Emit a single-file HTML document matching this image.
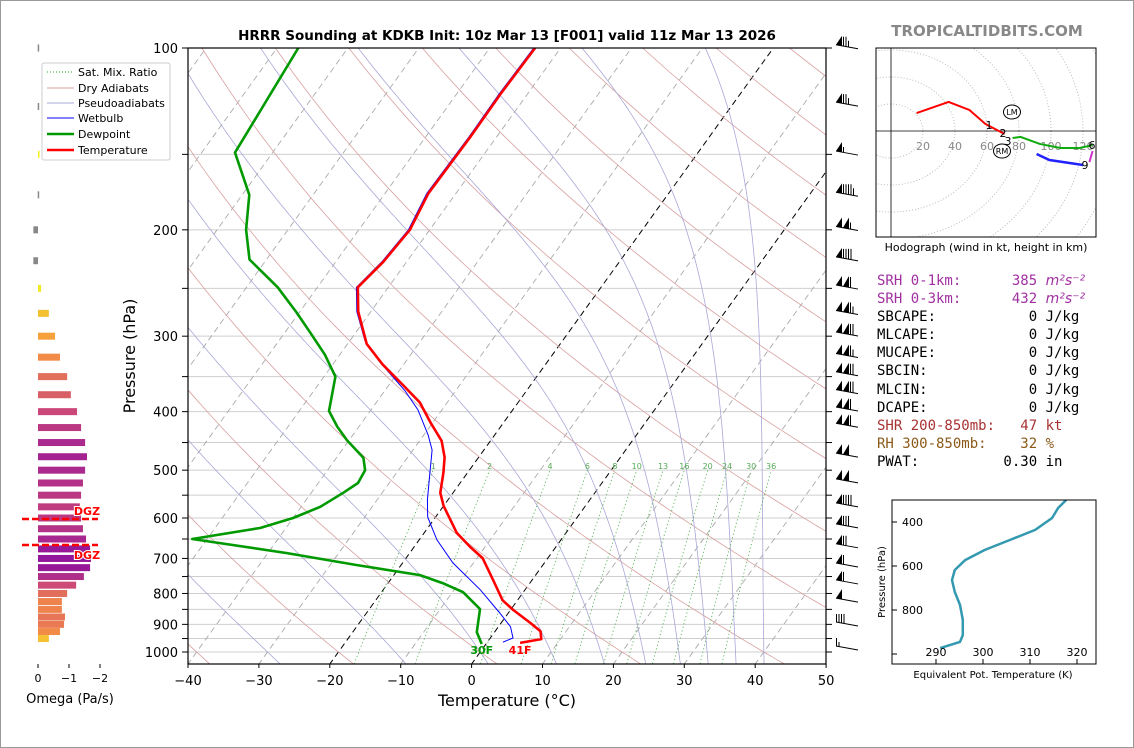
<!DOCTYPE html>
<html><head><meta charset="utf-8"><style>
html,body{margin:0;padding:0;background:#fff;}
body{width:1134px;height:748px;overflow:hidden;position:relative;}
svg{position:absolute;left:0;top:0;font-family:"DejaVu Sans","Liberation Sans",sans-serif;}
#stats{position:absolute;left:877px;top:272px;font-family:"DejaVu Sans Mono","Liberation Mono",monospace;font-size:14px;line-height:18.1px;white-space:pre;color:#000;}
#stats i{font-family:"DejaVu Sans","Liberation Sans",sans-serif;}
</style></head><body>
<svg id="fig" width="1134" height="748" viewBox="0 0 1134 748">
<rect x="0.5" y="0.5" width="1133" height="747" fill="#fff" stroke="#999"/>
<text x="507" y="40" font-size="13.5" font-weight="bold" text-anchor="middle">HRRR Sounding at KDKB Init: 10z Mar 13 [F001] valid 11z Mar 13 2026</text>
<text x="987" y="36" font-size="15" font-weight="bold" fill="#888" text-anchor="middle">TROPICALTIDBITS.COM</text>
<defs>
<clipPath id="mainclip"><rect x="188" y="48" width="638" height="616"/></clipPath>
<clipPath id="hodoclip"><rect x="876" y="48" width="220" height="189"/></clipPath>
<clipPath id="theclip"><rect x="892" y="500" width="205" height="165"/></clipPath>
</defs>
<g id="bg" clip-path="url(#mainclip)"></g>
<g id="profiles" clip-path="url(#mainclip)"></g>
<g id="axes"></g>
<g id="barbs"></g>
<g id="omega"></g>
<g id="hodo"></g>
<g id="thetae"></g>
<g id="legend">
<rect x="42" y="63" width="128" height="97" fill="#fff" stroke="#ccc" rx="2"/>
<line x1="47" y1="72" x2="74" y2="72" stroke="#2a2" stroke-dasharray="1,2"/><text x="78" y="76" font-size="11">Sat. Mix. Ratio</text>
<line x1="47" y1="88" x2="74" y2="88" stroke="#d9a0a0"/><text x="78" y="92" font-size="11">Dry Adiabats</text>
<line x1="47" y1="103" x2="74" y2="103" stroke="#a8a8d8"/><text x="78" y="107" font-size="11">Pseudoadiabats</text>
<line x1="47" y1="118" x2="74" y2="118" stroke="#00f"/><text x="78" y="122" font-size="11">Wetbulb</text>
<line x1="47" y1="134" x2="74" y2="134" stroke="#090" stroke-width="2.5"/><text x="78" y="138" font-size="11">Dewpoint</text>
<line x1="47" y1="150" x2="74" y2="150" stroke="#f00" stroke-width="2.5"/><text x="78" y="154" font-size="11">Temperature</text>
</g>
</svg>
<div id="stats"><span style="color:#a030a0">SRH 0-1km:      385 <i>m²s⁻²</i></span>
<span style="color:#a030a0">SRH 0-3km:      432 <i>m²s⁻²</i></span>
<span>SBCAPE:           0 J/kg</span>
<span>MLCAPE:           0 J/kg</span>
<span>MUCAPE:           0 J/kg</span>
<span>SBCIN:            0 J/kg</span>
<span>MLCIN:            0 J/kg</span>
<span>DCAPE:            0 J/kg</span>
<span style="color:#a83232">SHR 200-850mb:   47 kt</span>
<span style="color:#8b5a1a">RH 300-850mb:    32 %</span>
<span>PWAT:          0.30 in</span></div>
<script>
// ---- sounding data ----
const tempP = [966,952,924,895,852,821,760,699,670,635,573,545,505,476,447,418,386,362,334,309,273,249,226,200,174,140,119,100];
const tempT = [4.7,7.3,6.4,4.1,0.4,-2.1,-5.5,-9.2,-12.1,-15.4,-20.0,-21.8,-23.4,-24.8,-26.9,-30.2,-33.9,-37.9,-43.0,-47.3,-51.8,-54.3,-53.3,-52.8,-53.9,-53.7,-53.8,-53.6];
const dewP = [970,927,849,796,769,746,718,686,650,623,600,575,545,525,500,477,446,424,399,350,322,296,274,249,224,200,175,149,100];
const dewT = [-0.6,-2.5,-4.4,-8.5,-12.3,-16.3,-26.2,-37.3,-52.1,-43.6,-40.0,-37.3,-35.5,-34.4,-34.7,-36.2,-40.3,-43.0,-45.8,-48.4,-52.1,-56.4,-60.4,-65.6,-72.4,-75.9,-79.0,-85.3,-87.0];
const wbP = [963,948,908,862,789,712,652,598,560,505,463,437,397,369,330,305,273,249,226,200,174,140,119,100];
const wbT = [2.2,3.2,1.7,-1.2,-6.3,-12.9,-17.5,-21.1,-22.9,-25.3,-27.3,-29.4,-33.4,-37.2,-43.8,-47.9,-52.0,-54.5,-53.5,-53.0,-54.1,-53.9,-54.0,-53.8];
const sfcTempLabel = "41F";
const sfcDewLabel = "30F";
// wind barbs
const barbP = [98,122,147,172,196,220,245,270,293,318,341,365,390,415,465,513,562,609,657,707,754,808,885,970];
const barbSpd = [75,75,55,95,105,90,110,115,120,115,120,120,110,110,100,100,90,80,70,60,60,50,40,15];
// omega
const omegaP = [100,125,150,175,200,225,250,275,300,325,350,375,400,425,450,475,500,525,550,575,600,625,650,675,700,725,750,775,800,825,850,875,900,925,950];
const omegaV = [0.01,0.01,-0.05,0.01,0.15,0.15,-0.1,-0.35,-0.55,-0.71,-0.94,-1.06,-1.26,-1.39,-1.52,-1.58,-1.52,-1.45,-1.39,-1.35,-1.39,-1.45,-1.55,-1.68,-1.71,-1.68,-1.48,-1.23,-0.94,-0.77,-0.77,-0.87,-0.84,-0.71,-0.35];
// hodograph (kt)
const hodoRedU = [16,36,49,59,71];
const hodoRedV = [13.3,21.5,15.6,5.2,-2.2];
const hodoGreenU = [76,81,93,106,118,126];
const hodoGreenV = [-5.2,-4.4,-9.6,-12.6,-12.6,-10.4];
const hodoMagU = [126,124];
const hodoMagV = [-14.8,-23];
const hodoBlueU = [120,99,91];
const hodoBlueV = [-25.2,-21.5,-17];
// theta-e
const thetaP = [300,336,382,436,482,527,573,618,664,718,777,845,914,945,973];
const thetaV = [317.7,316.0,314.7,311.1,305.7,300.4,296.2,294.0,293.4,294.0,295.1,295.7,295.7,295.1,290.9];
const mixRatios = [1,2,4,6,8,10,13,16,20,24,30,36];
const mixLabels = ["1","2","4","6","8","10","13","16","20","24","30","36"];

const NS="http://www.w3.org/2000/svg";
function mk(tag,attrs,parent){const e=document.createElementNS(NS,tag);for(const k in attrs)e.setAttribute(k,attrs[k]);parent.appendChild(e);return e;}
const Y=p=>652+604*Math.log10(p/1000);
const X=(T,p)=>188+(T+40)*7.09+(664-Y(p))*0.72;
const pathOf=(ps,ts)=>ps.map((p,i)=>(i?'L':'M')+X(ts[i],p).toFixed(1)+','+Y(p).toFixed(1)).join('');
const bg=document.getElementById('bg');
// isobars
for(let p=100;p<=1050;p+=50){
  const l=mk('line',{x1:188,x2:826,y1:Y(p),y2:Y(p),stroke:'#cfcfcf','stroke-width':1},bg);
  
  
}
// isotherms
for(let T=-130;T<=50;T+=10){
  const black=(T===0||T===-20);
  const l=mk('line',{x1:X(T,1050),y1:Y(1050),x2:X(T,90),y2:Y(90),stroke:black?'#000':'#aaa','stroke-width':black?1:0.9,'stroke-dasharray':'6,4'},bg);
  
  
}
// dry adiabats
for(let thC=-80;thC<=240;thC+=20){
  const th=thC+273.15;
  let d='';
  for(let p=1050;p>=100;p-=10){const T=th*Math.pow(p/1000,0.2857)-273.15;d+=(d?'L':'M')+X(T,p).toFixed(1)+','+Y(p).toFixed(1);}
  const l=mk('path',{d:d,fill:'none',stroke:'#d9a0a0','stroke-width':0.8},bg);
  
  
}
// moist adiabats
function es(T){return 6.112*Math.exp(17.67*T/(T+243.5));}
function moist(T0){
  const pts=[];let T=T0+273.15;
  for(let p=1000;p>=100;p-=2){
    pts.push([p,T-273.15]);
    const rs=0.622*es(T-273.15)/(p-es(T-273.15));
    const dT=(287*T+2.5e6*rs)/(1004+2.5e6*2.5e6*rs*0.622/(287*T*T))/p;
    T-=dT*2;
  }
  T=T0+273.15;const dn=[];
  for(let p=1000;p<=1060;p+=2){
    const rs=0.622*es(T-273.15)/(p-es(T-273.15));
    const dT=(287*T+2.5e6*rs)/(1004+2.5e6*2.5e6*rs*0.622/(287*T*T))/p;
    T+=dT*2;dn.push([p+2,T-273.15]);
  }
  return dn.reverse().concat(pts);
}
[-30,-12,0,10,17,23,28,32,36,40].forEach(T0=>{
  const pts=moist(T0);
  const d=pts.map((q,i)=>(i?'L':'M')+X(q[1],q[0]).toFixed(1)+','+Y(q[0]).toFixed(1)).join('');
  const l=mk('path',{d:d,fill:'none',stroke:'#a8a8d8','stroke-width':0.8},bg);
  
  
});
// mixing ratio lines
function tdFromW(w,p){const e=w*p/(622+w);const a=Math.log(e/6.112);return 243.5*a/(17.67-a);}
mixRatios.forEach((w,i)=>{
  let d='';
  for(let p=1060;p>=500;p-=10){d+=(d?'L':'M')+X(tdFromW(w,p),p).toFixed(1)+','+Y(p).toFixed(1);}
  const l=mk('path',{d:d,fill:'none',stroke:'#4a4','stroke-width':0.8,'stroke-dasharray':'1.2,2.5'},bg);
  
  
  const t=mk('text',{x:X(tdFromW(w,500),500),y:Y(500)-1,'font-size':8,fill:'#5a5','text-anchor':'middle'},bg);
  t.textContent=mixLabels[i];
  
  
});
// profiles
const pr=document.getElementById('profiles');
let e;
e=mk('path',{d:pathOf(dewP,dewT),fill:'none',stroke:'#009900','stroke-width':2.6,'stroke-linejoin':'round'},pr);


e=mk('path',{d:pathOf(wbP,wbT),fill:'none',stroke:'#0000ff','stroke-width':1},pr);


e=mk('path',{d:pathOf(tempP,tempT),fill:'none',stroke:'#ff0000','stroke-width':2.6,'stroke-linejoin':'round'},pr);


e=mk('text',{x:X(tempT[0],tempP[0]),y:Y(tempP[0])+11,'font-size':11,'font-weight':'bold',fill:'#f00','text-anchor':'middle'},pr);
e.textContent=sfcTempLabel;


e=mk('text',{x:X(dewT[0],dewP[0]),y:Y(tempP[0])+11,'font-size':11,'font-weight':'bold',fill:'#090','text-anchor':'middle'},pr);
e.textContent=sfcDewLabel;


// axes
const ax=document.getElementById('axes');
e=mk('rect',{x:188,y:48,width:638,height:616,fill:'none',stroke:'#000','stroke-width':1.2},ax);


for(let T=-40;T<=50;T+=10){
  const x=188+(T+40)*7.09;
  mk('line',{x1:x,x2:x,y1:664,y2:668,stroke:'#000'},ax);
  const t=mk('text',{x:x,y:685,'font-size':13,'text-anchor':'middle'},ax);
  t.textContent=(T<0?'\u2212':'')+Math.abs(T);
  
  
}
for(let p=100;p<=1000;p+=50){
  const y=Y(p);
  mk('line',{x1:182,x2:188,y1:y,y2:y,stroke:'#000'},ax);
  mk('line',{x1:826,x2:832,y1:y,y2:y,stroke:'#000'},ax);
  if(p%100===0){
    const t=mk('text',{x:178,y:y+5,'font-size':13,'text-anchor':'end'},ax);
    t.textContent=p;
    
    
  }
}
e=mk('text',{x:507,y:706,'font-size':16,'text-anchor':'middle'},ax);
e.textContent='Temperature (°C)';


e=mk('text',{x:135,y:356,'font-size':16,'text-anchor':'middle',transform:'rotate(-90 135 356)'},ax);
e.textContent='Pressure (hPa)';


// wind barbs
const bb=document.getElementById('barbs');
barbP.forEach((p,i)=>{
  const y=Y(p)+2;const x0=836;
  const g=mk('g',{},bb);
  
  
  mk('line',{x1:x0,y1:y,x2:858,y2:y+4,stroke:'#000','stroke-width':1},g);
  let s=barbSpd[i];let x=x0;
  const sl=4/22;
  while(s>=50){mk('polygon',{points:`${x},${y+(x-x0)*sl} ${x+6},${y+(x+6-x0)*sl} ${x+6},${y-9}`,fill:'#000'},g);x+=7;s-=50;}
  while(s>=10){mk('line',{x1:x+0.5,y1:y+(x-x0)*sl,x2:x+0.5,y2:y-8,stroke:'#000','stroke-width':1},g);x+=2.5;s-=10;}
  if(s>=5){mk('line',{x1:x+0.5,y1:y+(x-x0)*sl,x2:x+0.5,y2:y-4,stroke:'#000','stroke-width':1},g);}
});
// omega panel
const om=document.getElementById('omega');
const plasma=[[13,8,135],[126,3,168],[204,71,120],[248,149,64],[240,249,33]];
function plas(t){t=Math.max(0,Math.min(1,t));const s=t*4;const i=Math.min(3,Math.floor(s));const f=s-i;const a=plasma[i],b=plasma[i+1];return `rgb(${a.map((v,k)=>Math.round(v+(b[k]-v)*f)).join(',')})`;}
omegaP.forEach((p,i)=>{
  const v=omegaV[i];const w=-v*31;const y=Y(p);
  const r=mk('rect',{x:w>=0?38:38+w,y:y-3.5,width:Math.max(Math.abs(w),1.5),height:7,fill:v>0?'#888':plas(1+v/2.5)},om);
  
  
});
[[0,'0'],[-1,'\u22121'],[-2,'\u22122']].forEach(([v,l])=>{
  const x=38-v*31;
  mk('line',{x1:x,x2:x,y1:664,y2:668,stroke:'#000'},om);
  const t=mk('text',{x:x,y:682,'font-size':11,'text-anchor':'middle'},om);
  t.textContent=l;
  
  
});
e=mk('text',{x:70,y:703,'font-size':13,'text-anchor':'middle'},om);
e.textContent='Omega (Pa/s)';


[[519,511],[545,555]].forEach(([ly,ty])=>{
  const l=mk('line',{x1:22,x2:98,y1:ly,y2:ly,stroke:'#f00','stroke-width':2.5,'stroke-dasharray':'7,3'},om);
  
  
  const t=mk('text',{x:87,y:ty+4,'font-size':11,'font-weight':'bold',fill:'#f00','text-anchor':'middle',stroke:'#fff','stroke-width':2,'paint-order':'stroke'},om);
  t.textContent='DGZ';
  
  
});
// hodograph
const hd=document.getElementById('hodo');
const hx=u=>891+u*1.6, hy=v=>131-v*1.35;
const hc=mk('g',{'clip-path':'url(#hodoclip)'},hd);
for(let r=20;r<=160;r+=20){mk('ellipse',{cx:891,cy:131,rx:r*1.6,ry:r*1.35,fill:'none',stroke:'#bbb','stroke-dasharray':'1,2'},hc);}
mk('line',{x1:891,x2:891,y1:48,y2:237,stroke:'#000','stroke-width':0.8},hc);
mk('line',{x1:876,x2:1096,y1:131,y2:131,stroke:'#000','stroke-width':0.8},hc);
[20,40,60,80,100,120].forEach(r=>{const t=mk('text',{x:hx(r),y:150,'font-size':11,fill:'#888','text-anchor':'middle'},hc);t.textContent=r;});
[[hodoRedU,hodoRedV,'#f00',2],[hodoGreenU,hodoGreenV,'#1a1',2],[hodoMagU,hodoMagV,'#c3c',2],[hodoBlueU,hodoBlueV,'#22f',2.5]].forEach(([us,vs,c,sw])=>{
  const d=us.map((u,i)=>(i?'L':'M')+hx(u)+','+hy(vs[i])).join('');
  const l=mk('path',{d:d,fill:'none',stroke:c,'stroke-width':sw},hc);
  
  
});
[['1',989,129],['2',1003,137],['3',1008,145],['6',1092,149],['9',1085,169]].forEach(([s,x,y])=>{const t=mk('text',{x:x,y:y,'font-size':11,'text-anchor':'middle'},hc);t.textContent=s;});
[['LM',1012,112],['RM',1002,151]].forEach(([s,x,y])=>{mk('ellipse',{cx:x,cy:y,rx:8.5,ry:7,fill:'#fff',stroke:'#000'},hc);const t=mk('text',{x:x,y:y+3,'font-size':8,'text-anchor':'middle'},hc);t.textContent=s;});
e=mk('rect',{x:876,y:48,width:220,height:189,fill:'none',stroke:'#000'},hd);


e=mk('text',{x:986,y:251,'font-size':11,'text-anchor':'middle'},hd);
e.textContent='Hodograph (wind in kt, height in km)';


// theta-e
const te=document.getElementById('thetae');
const tx=v=>936+(v-290)*4.7, ty=p=>522+(p-400)*0.22;
const tc=mk('g',{'clip-path':'url(#theclip)'},te);
e=mk('path',{d:thetaP.map((p,i)=>(i?'L':'M')+tx(thetaV[i]).toFixed(1)+','+ty(p).toFixed(1)).join(''),fill:'none',stroke:'#3399b0','stroke-width':2.5,'stroke-linejoin':'round'},tc);


e=mk('rect',{x:892,y:500,width:204,height:164,fill:'none',stroke:'#000'},te);


[400,600,800,1000].forEach(p=>{mk('line',{x1:892,x2:897,y1:ty(p),y2:ty(p),stroke:'#000'},te);if(p<1000){const t=mk('text',{x:902,y:ty(p)+4,'font-size':11},te);t.textContent=p;}});
[290,300,310,320].forEach(v=>{mk('line',{x1:tx(v),x2:tx(v),y1:664,y2:659,stroke:'#000'},te);const t=mk('text',{x:tx(v),y:656,'font-size':11,'text-anchor':'middle'},te);t.textContent=v;});
e=mk('text',{x:993,y:678,'font-size':10,'text-anchor':'middle'},te);
e.textContent='Equivalent Pot. Temperature (K)';


e=mk('text',{x:885,y:582,'font-size':10,'text-anchor':'middle',transform:'rotate(-90 885 582)'},te);
e.textContent='Pressure (hPa)';


</script>
</body></html>
